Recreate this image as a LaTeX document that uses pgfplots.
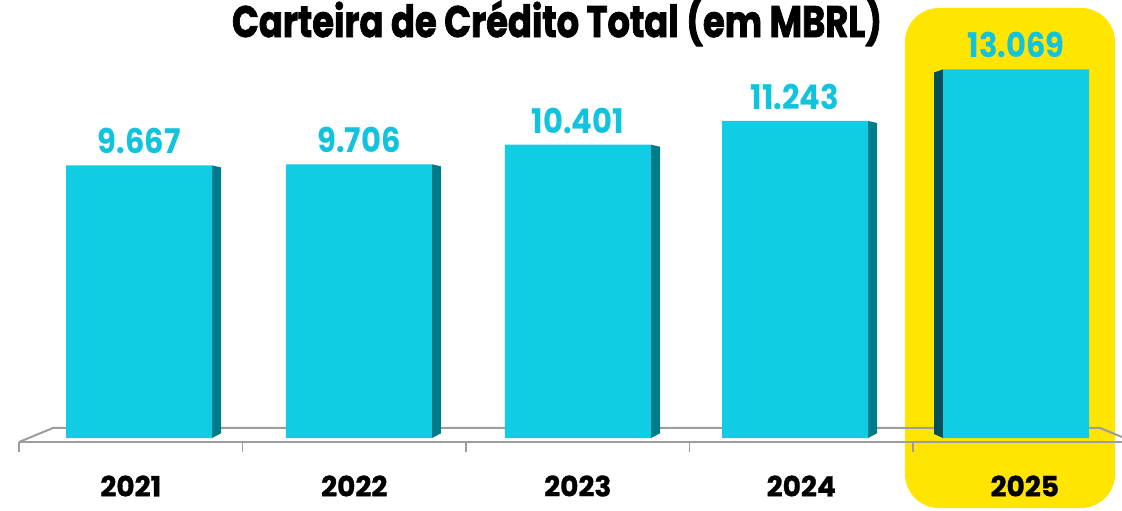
\documentclass[border=0pt]{standalone}
\usepackage{pgfplots}
\pgfplotsset{compat=1.18}
\usepackage{fontspec}
\usepackage{graphicx}
\setmainfont{Poppins}
\newfontfamily\heavyfont{Poppins}[FakeBold=2]
\newfontfamily\yearfont{Poppins}[FakeBold=1]
\definecolor{barc}{HTML}{10CDE4}
\definecolor{sidec}{HTML}{007B8A}
\definecolor{sidecb}{HTML}{00505A}
\definecolor{valc}{HTML}{12C3DE}
\definecolor{hl}{HTML}{FFE500}
\definecolor{floorc}{HTML}{9C9C9C}
\begin{document}
\begin{tikzpicture}
\useasboundingbox (0,0) rectangle (561pt,255pt);
\fill[hl, rounded corners=17pt] (452.5pt,1pt) rectangle (557.5pt,251pt);
\node[anchor=base, inner sep=0pt] at (278.5pt,236.5pt) {\resizebox{325pt}{\height}{\heavyfont\bfseries\fontsize{22}{24}\selectfont Carteira de Crédito Total (em MBRL)}};
\begin{axis}[
  at={(9.5pt,36pt)}, anchor=south west,
  scale only axis, width=551.5pt, height=219pt,
  xmin=0, xmax=4.935, ymin=0, ymax=15532,
  axis line style={draw=none},
  clip=false,
  ytick=\empty,
  xtick={0.5,1.5,2.5,3.5,4.5},
  xticklabels={2021,2022,2023,2024,2025},
  major tick length=0pt,
  xtick pos=bottom,
  xticklabel style={anchor=center, yshift=-24pt, font=\yearfont\fontsize{14}{16}\selectfont\bfseries},
]
% floor
\addplot[floorc, line width=1pt, forget plot] coordinates {(0,-142) (0.152,355) (4.837,355) (4.935,35)};
\addplot[floorc, line width=1.2pt, forget plot] coordinates {(0,-142) (4.935,-142)};
\addplot[floorc, line width=0.7pt, forget plot] coordinates {(0,-142) (0,-496)};
\addplot[floorc, line width=0.7pt, forget plot] coordinates {(1,-142) (1,-496)};
\addplot[floorc, line width=0.7pt, forget plot] coordinates {(2,-142) (2,-496)};
\addplot[floorc, line width=0.7pt, forget plot] coordinates {(3,-142) (3,-496)};
\addplot[floorc, line width=0.7pt, forget plot] coordinates {(4,-142) (4,-496)};
% side faces
\addplot[fill=sidec, draw=none, forget plot] coordinates {(0.8636,0) (0.9039,167) (0.9039,9596) (0.8636,9667)} -- cycle;
\addplot[fill=sidec, draw=none, forget plot] coordinates {(1.8476,0) (1.8879,167) (1.8879,9635) (1.8476,9706)} -- cycle;
\addplot[fill=sidec, draw=none, forget plot] coordinates {(2.8276,0) (2.8679,167) (2.8679,10330) (2.8276,10401)} -- cycle;
\addplot[fill=sidec, draw=none, forget plot] coordinates {(3.7986,0) (3.8389,167) (3.8389,11172) (3.7986,11243)} -- cycle;
\addplot[fill=sidecb, draw=none, forget plot] coordinates {(4.1344,0) (4.0941,142) (4.0941,12963) (4.1344,13069)} -- cycle;
% bars
\addplot[ybar, bar width=0.6532, fill=barc, draw=none,
  point meta=explicit symbolic,
  nodes near coords={\scalebox{0.9}[1]{\pgfplotspointmeta}},
  every node near coord/.append style={font=\fontsize{17}{19}\selectfont\bfseries, text=valc, inner sep=0pt, anchor=south, yshift=5.5pt}]
  coordinates {(0.537,9667) [9.667] (1.521,9706) [9.706] (2.501,10401) [10.401] (3.472,11243) [11.243] (4.461,13069) [13.069]};
\end{axis}
\end{tikzpicture}
\end{document}
